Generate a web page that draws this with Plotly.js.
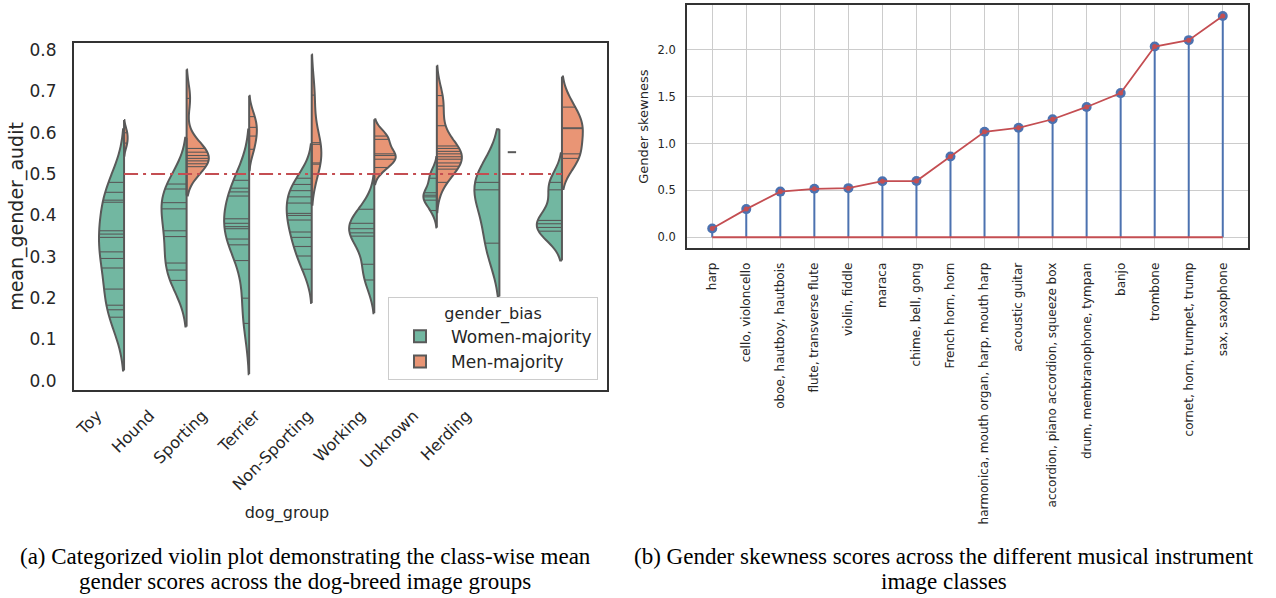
<!DOCTYPE html>
<html>
<head>
<meta charset="utf-8">
<script src="https://cdn.plot.ly/plotly-3.0.1.min.js"></script>
<style>
html,body{margin:0;padding:0;background:#ffffff;}
#chart{width:1276px;height:598px;}
</style>
</head>
<body>
<div id="chart"></div>
<script>
// ---------------- Data: (a) dog-breed groups ----------------
const dogGroups = ['Toy', 'Hound', 'Sporting', 'Terrier', 'Non-Sporting', 'Working', 'Unknown', 'Herding'];
// class-wise mean gender scores, one list per dog group
const womenMajority = [
  [0.480, 0.456, 0.437, 0.432, 0.363, 0.355, 0.347, 0.312, 0.296, 0.273, 0.222, 0.183, 0.172, 0.154],
  [0.476, 0.464, 0.431, 0.416, 0.363, 0.349, 0.285, 0.268, 0.243],
  [0.485, 0.466, 0.457, 0.447, 0.392, 0.381, 0.373, 0.368, 0.343, 0.329, 0.291, 0.200, 0.139],
  [0.490, 0.475, 0.460, 0.445, 0.430, 0.405, 0.400, 0.389, 0.360, 0.347, 0.325, 0.302, 0.270],
  [0.415, 0.381, 0.368, 0.358, 0.350, 0.282, 0.244],
  [0.500, 0.490, 0.455, 0.449, 0.445, 0.437, 0.412],
  [0.480, 0.462, 0.333],
  [0.480, 0.462, 0.388, 0.380, 0.371, 0.362]
];
const menMajority = [
  [0.575, 0.600],
  [0.683, 0.562, 0.553, 0.545, 0.538, 0.532, 0.525, 0.518],
  [0.639, 0.613, 0.592, 0.560],
  [0.691, 0.576, 0.572, 0.527, 0.524],
  [0.592, 0.584, 0.549, 0.545, 0.536, 0.516],
  [0.690, 0.665, 0.617, 0.568, 0.562, 0.555, 0.549, 0.542, 0.536, 0.527, 0.519, 0.512, 0.480],
  [0.553],
  [0.662, 0.612, 0.610, 0.549, 0.538]
];
const genderThreshold = 0.5;
const yTicksA = [0.0, 0.1, 0.2, 0.3, 0.4, 0.5, 0.6, 0.7, 0.8];

// ---------------- Data: (b) musical instruments ----------------
const instruments = ['harp', 'cello, violoncello', 'oboe, hautboy, hautbois', 'flute, transverse flute',
  'violin, fiddle', 'maraca', 'chime, bell, gong', 'French horn, horn',
  'harmonica, mouth organ, harp, mouth harp', 'acoustic guitar', 'accordion, piano accordion, squeeze box',
  'drum, membranophone, tympan', 'banjo', 'trombone', 'cornet, horn, trumpet, trump', 'sax, saxophone'];
const skewness = [0.094, 0.300, 0.487, 0.517, 0.524, 0.598, 0.600, 0.862, 1.125, 1.168, 1.259, 1.390, 1.538, 2.035, 2.103, 2.360];
const yTicksB = [0.0, 0.5, 1.0, 1.5, 2.0];

// ---------------- Captions ----------------
const captionA = ['(a) Categorized violin plot demonstrating the class-wise mean', 'gender scores across the dog-breed image groups'];
const captionB = ['(b) Gender skewness scores across the different musical instrument', 'image classes'];

// ---------------- Styles ----------------
const GREEN = '#72b7a1', ORANGE = '#e99575', EDGE = '#595959';
const RED = '#c44e52', BLUE = '#4c72b0';
const HALF = 0.4; // seaborn split violin half width (width 0.8)

// ---------------- helpers (seaborn-like KDE: scott bandwidth, cut = 2) ----------------
function scottBw(v) {
  const n = v.length, m = v.reduce((a, b) => a + b, 0) / n;
  const sd = Math.sqrt(v.reduce((a, b) => a + (b - m) * (b - m), 0) / (n - 1));
  return sd * Math.pow(n, -0.2);
}
function kde(v, bw, x) {
  let s = 0;
  for (const xi of v) { const u = (x - xi) / bw; s += Math.exp(-0.5 * u * u); }
  return s / (v.length * bw * Math.sqrt(2 * Math.PI));
}
function maxKde(v, bw) {
  const lo = Math.min(...v) - 2 * bw, hi = Math.max(...v) + 2 * bw;
  let m = 0;
  for (let k = 0; k <= 600; k++) m = Math.max(m, kde(v, bw, lo + (hi - lo) * k / 600));
  return m;
}

const traces = [];
const stickX = [], stickY = [], centerX = [], centerY = [];
const singleX = [], singleY = [];

function addHalf(vals, i, side, nMax, color, name, showLeg) {
  const n = vals.length;
  const sgn = side === 'negative' ? -1 : 1;
  if (n < 2) {
    // single observation: short line (seaborn draw_single_observation)
    const d = 0.5 * (n / nMax) * HALF;
    const c = i + sgn * HALF / 2;
    singleX.push(c - d, c + d, null);
    singleY.push(vals[0], vals[0], null);
    return;
  }
  const bw = scottBw(vals);
  const widthFrac = n / nMax;
  traces.push({
    type: 'violin', x0: i, y: vals, xaxis: 'x', yaxis: 'y', orientation: 'v',
    side: side, width: 2 * HALF * widthFrac,
    scalegroup: 'g' + i + side, scalemode: 'width',
    bandwidth: bw, spanmode: 'soft', points: false,
    box: {visible: false}, meanline: {visible: false},
    fillcolor: color, line: {color: EDGE, width: 2},
    name: name, legendgroup: name, showlegend: showLeg, hoverinfo: 'skip'
  });
  const mk = maxKde(vals, bw);
  for (const v of vals) {
    const L = kde(vals, bw, v) / mk * HALF * widthFrac;
    stickX.push(i, i + sgn * L, null);
    stickY.push(v, v, null);
  }
  centerX.push(i, i, null);
  centerY.push(Math.min(...vals) - 2 * bw, Math.max(...vals) + 2 * bw, null);
}

dogGroups.forEach((g, i) => {
  const nMax = Math.max(womenMajority[i].length, menMajority[i].length);
  addHalf(womenMajority[i], i, 'negative', nMax, GREEN, 'Women-majority', i === 0);
});
dogGroups.forEach((g, i) => {
  const nMax = Math.max(womenMajority[i].length, menMajority[i].length);
  addHalf(menMajority[i], i, 'positive', nMax, ORANGE, 'Men-majority', i === 0);
});

traces.push({type: 'scatter', mode: 'lines', x: stickX, y: stickY, xaxis: 'x', yaxis: 'y',
  line: {color: EDGE, width: 1.1}, showlegend: false, hoverinfo: 'skip'});
traces.push({type: 'scatter', mode: 'lines', x: centerX, y: centerY, xaxis: 'x', yaxis: 'y',
  line: {color: EDGE, width: 2}, showlegend: false, hoverinfo: 'skip'});
traces.push({type: 'scatter', mode: 'lines', x: singleX, y: singleY, xaxis: 'x', yaxis: 'y',
  line: {color: EDGE, width: 2}, showlegend: false, hoverinfo: 'skip'});
// threshold line
traces.push({type: 'scatter', mode: 'lines', x: [0, dogGroups.length - 1], y: [genderThreshold, genderThreshold],
  xaxis: 'x', yaxis: 'y', line: {color: RED, width: 2, dash: '14px,5px,3px,5px'}, showlegend: false, hoverinfo: 'skip'});
// carrier for the category label axis
traces.push({type: 'scatter', mode: 'markers', x: [], y: [], xaxis: 'x3', yaxis: 'y', showlegend: false, hoverinfo: 'skip'});

// ---------------- (b) stem plot ----------------
const stemX = [], stemY = [];
instruments.forEach((c, k) => { stemX.push(c, c, null); stemY.push(0, skewness[k], null); });
traces.push({type: 'scatter', mode: 'lines', x: stemX, y: stemY, xaxis: 'x2', yaxis: 'y2',
  line: {color: BLUE, width: 2}, showlegend: false, hoverinfo: 'skip'});
traces.push({type: 'scatter', mode: 'lines', x: [instruments[0], instruments[instruments.length - 1]], y: [0, 0],
  xaxis: 'x2', yaxis: 'y2', line: {color: RED, width: 2}, showlegend: false, hoverinfo: 'skip'});
traces.push({type: 'scatter', mode: 'markers', x: instruments, y: skewness, xaxis: 'x2', yaxis: 'y2',
  marker: {color: BLUE, size: 10}, showlegend: false, hoverinfo: 'skip'});
traces.push({type: 'scatter', mode: 'lines+markers', x: instruments, y: skewness, xaxis: 'x2', yaxis: 'y2',
  line: {color: RED, width: 1.8}, marker: {color: RED, size: 5}, showlegend: false, hoverinfo: 'skip'});

const W = 1276, H = 598;
const capFont = {family: 'Liberation Serif, Times New Roman, serif', size: 23, color: '#000000'};
function cap(text, xc, yc) {
  return {xref: 'paper', yref: 'paper', x: xc / W, y: 1 - yc / H, xanchor: 'center', yanchor: 'middle',
    showarrow: false, text: text, font: capFont};
}
const layout = {
  width: W, height: H, autosize: false,
  margin: {l: 0, r: 0, t: 0, b: 0},
  paper_bgcolor: '#ffffff', plot_bgcolor: 'rgba(0,0,0,0)',
  font: {family: 'DejaVu Sans', color: '#262626'},
  violinmode: 'overlay',
  showlegend: true,
  xaxis: {type: 'linear', domain: [74 / W, 607 / W], range: [-0.8, 7.72], anchor: 'y',
    showticklabels: false, ticks: '', showgrid: false, zeroline: false,
    showline: true, mirror: true, linecolor: '#333333', linewidth: 2},
  yaxis: {type: 'linear', domain: [1 - 390 / H, 1 - 43 / H], range: [-0.022, 0.817], anchor: 'x',
    tickvals: yTicksA, ticktext: yTicksA.map(v => v.toFixed(1)), tickfont: {size: 17, color: '#262626'},
    ticks: 'outside', ticklen: 12, tickcolor: 'rgba(0,0,0,0)',
    showgrid: false, zeroline: false, showline: true, mirror: true, linecolor: '#333333', linewidth: 2,
    title: {text: 'mean_gender_audit', font: {size: 19, color: '#262626'}, standoff: 1}},
  xaxis3: {type: 'linear', domain: [74 / W, 500 / W], range: [-0.435, 7.635], anchor: 'y',
    tickvals: dogGroups.map((g, i) => i), ticktext: dogGroups, tickangle: -45,
    tickfont: {size: 16, color: '#262626'}, ticks: 'outside', ticklen: 9, tickcolor: 'rgba(0,0,0,0)',
    showline: false, showgrid: false, zeroline: false,
    title: {text: 'dog_group', font: {size: 16, color: '#262626'}, standoff: 13}},
  xaxis2: {domain: [686.7 / W, 1248.3 / W], anchor: 'y2', type: 'category', range: [-0.75, 15.75],
    tickangle: -90, tickfont: {size: 12, color: '#262626'}, ticks: 'outside', ticklen: 8, tickcolor: 'rgba(0,0,0,0)',
    showgrid: true, gridcolor: '#cccccc', gridwidth: 1, zeroline: false,
    showline: true, mirror: true, linecolor: '#333333', linewidth: 1.6},
  yaxis2: {type: 'linear', domain: [1 - 248.3 / H, 1 - 5 / H], anchor: 'x2', range: [-0.118, 2.478],
    tickvals: yTicksB, ticktext: yTicksB.map(v => v.toFixed(1)), tickfont: {size: 11.5, color: '#262626'},
    ticks: 'outside', ticklen: 7, tickcolor: 'rgba(0,0,0,0)',
    showgrid: true, gridcolor: '#cccccc', gridwidth: 1, zeroline: false,
    showline: true, mirror: true, linecolor: '#333333', linewidth: 1.6,
    title: {text: 'Gender skewness', font: {size: 13, color: '#262626'}, standoff: 6}},
  legend: {x: 598 / W, xanchor: 'right', y: 1 - 380 / H, yanchor: 'bottom',
    bgcolor: 'rgba(255,255,255,0.85)', bordercolor: '#cccccc', borderwidth: 1,
    font: {size: 17, color: '#262626'},
    title: {text: 'gender_bias', side: 'top center', font: {size: 16, color: '#262626'}},
    traceorder: 'normal', itemwidth: 52},
  annotations: [
    cap(captionA[0], 305, 556), cap(captionA[1], 305, 581),
    cap(captionB[0], 944, 556), cap(captionB[1], 944, 581)
  ]
};

Plotly.newPlot('chart', traces, layout, {displayModeBar: false, staticPlot: true});
</script>
</body>
</html>
